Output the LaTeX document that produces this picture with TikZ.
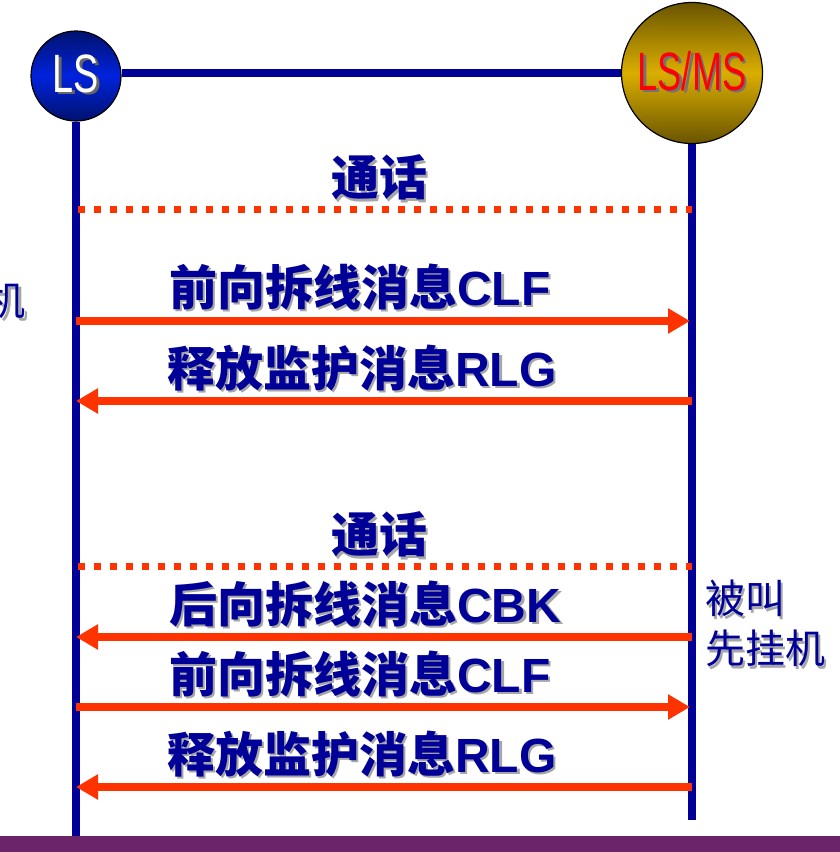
\documentclass[tikz,border=0pt]{standalone}
\usepackage{fontspec}
\newfontfamily\cjk{Noto Sans CJK SC}
\newfontfamily\latf{Liberation Sans}
\usetikzlibrary{arrows.meta,backgrounds}
\definecolor{navy}{RGB}{0,0,153}
\definecolor{msg}{RGB}{255,51,0}
\definecolor{life}{RGB}{0,0,153}
\definecolor{barcol}{RGB}{108,36,105}
\definecolor{goldmid}{RGB}{218,174,0}
\definecolor{golddark}{RGB}{105,84,0}
\definecolor{bluemid}{RGB}{0,34,221}
\definecolor{bluedark}{RGB}{0,18,110}
\newcommand\shtxt[2]{% shadow colour, text
  \leavevmode\rlap{\kern2.5pt\raisebox{-2.5pt}{\textcolor{#1}{#2}}}#2}
\begin{document}
\begin{tikzpicture}[x=1pt,y=-1pt,
  lifeline/.style={draw=life,line width=8pt},
  msgarrow/.style={draw=msg,line width=8pt,-{Triangle[length=22pt,width=24pt]}},
  talk/.style={draw=msg,line width=7pt,dash pattern=on 7pt off 9pt},
  lbl/.style={font=\cjk\bfseries\fontsize{48}{48}\selectfont,text=navy,inner sep=0pt},
  side/.style={font=\cjk\fontsize{40}{40}\selectfont,text=navy,inner sep=0pt},
  ball/.style={circle,draw=black,line width=1.2pt,inner sep=0pt},
  balltext/.style={font=\latf\fontsize{54}{54}\selectfont,inner sep=0pt}]
\useasboundingbox (0,0) rectangle (840,852);
\clip (0,0) rectangle (840,852);

% stations
\node[ball,minimum size=90pt,top color=bluedark,bottom color=bluedark,middle color=bluemid] (LS) at (76,76) {};
\node[ball,minimum size=141pt,top color=golddark,bottom color=golddark,middle color=goldmid] (LSMS) at (692,73) {};
\node[balltext,text=white] (LSt) at (76,75) {\shtxt{black!60}{\scalebox{0.7}[1]{LS}}};
\node[balltext,text=red] (LSMSt) at (692,72) {\shtxt{black!55}{\scalebox{0.67}[1]{LS/MS}}};

% top link and lifelines
\coordinate (Lbot) at (76,839);
\coordinate (Rbot) at (692,820);
\begin{scope}[on background layer]
\draw[lifeline] (LS.east |- LSMS) -- (LSMS.west);
\draw[lifeline] (LS.south) -- (Lbot);
\draw[lifeline] (LSMS.south) -- (Rbot);
\end{scope}

% coordinates on lifelines
\coordinate (t1l) at (78,209);  \coordinate (t1r) at (692,209);
\coordinate (a1l) at (76,321);  \coordinate (a1r) at (692,321);
\coordinate (a2l) at (76,401);  \coordinate (a2r) at (692,401);
\coordinate (t2l) at (78,566);  \coordinate (t2r) at (692,566);
\coordinate (a3l) at (76,637);  \coordinate (a3r) at (692,637);
\coordinate (a4l) at (76,707);  \coordinate (a4r) at (692,707);
\coordinate (a5l) at (76,787);  \coordinate (a5r) at (692,787);

% messages
\draw[talk] (t1l) -- (t1r);
\draw[msgarrow,shorten >=2pt] (a1l) -- (a1r);
\draw[msgarrow] (a2r) -- (a2l);
\draw[talk] (t2l) -- (t2r);
\draw[msgarrow] (a3r) -- (a3l);
\draw[msgarrow,shorten >=2pt] (a4l) -- (a4r);
\draw[msgarrow] (a5r) -- (a5l);

% labels
\node[lbl] (call1) at (379,179) {\shtxt{black!35}{通话}};
\node[lbl,anchor=west] (m1) at (169,288) {\shtxt{black!35}{前向拆线消息{\latf CLF}}};
\node[lbl,anchor=west] (m2) at (167,369) {\shtxt{black!35}{释放监护消息{\latf RLG}}};
\node[lbl] (call2) at (379,536) {\shtxt{black!35}{通话}};
\node[lbl,anchor=west] (m3) at (169,605) {\shtxt{black!35}{后向拆线消息{\latf CBK}}};
\node[lbl,anchor=west] (m4) at (169,675) {\shtxt{black!35}{前向拆线消息{\latf CLF}}};
\node[lbl,anchor=west] (m5) at (167,755) {\shtxt{black!35}{释放监护消息{\latf RLG}}};
\node[side,anchor=west] (s1) at (705,600) {\shtxt{black!35}{被叫}};
\node[side,anchor=west] (s2) at (705,650) {\shtxt{black!35}{先挂机}};
\node[side,anchor=east] (s0) at (26,302) {\shtxt{black!35}{机}};

% bottom bar
\fill[barcol] (0,836) rectangle (840,852);
\end{tikzpicture}
\end{document}
